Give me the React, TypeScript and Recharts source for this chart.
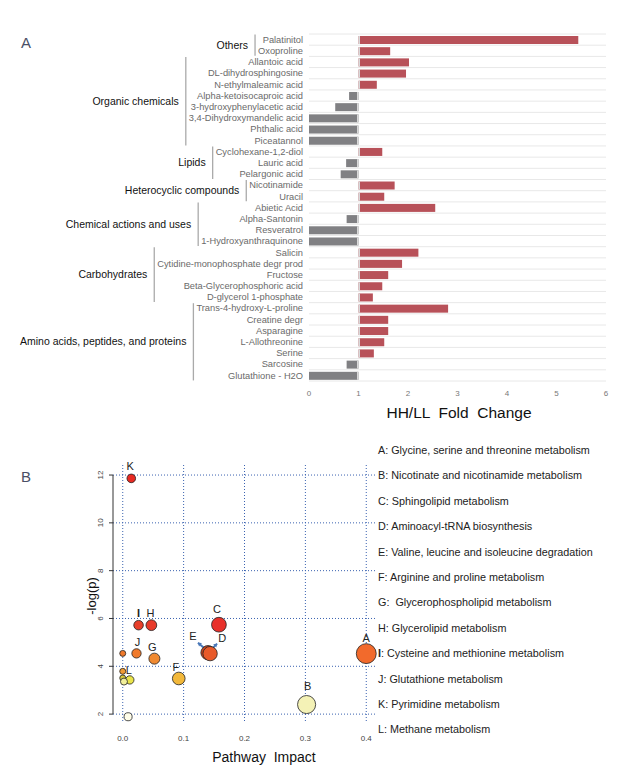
import React from 'react';
import {
  BarChart,
  Bar,
  XAxis,
  YAxis,
  CartesianGrid,
  ScatterChart,
  Scatter,
  ReferenceLine
} from 'recharts';

// ---- Panel A data ----
const metabolites = [
  'Palatinitol', 'Oxoproline',
  'Allantoic acid', 'DL-dihydrosphingosine', 'N-ethylmaleamic acid', 'Alpha-ketoisocaproic acid',
  '3-hydroxyphenylacetic acid', '3,4-Dihydroxymandelic acid', 'Phthalic acid', 'Piceatannol',
  'Cyclohexane-1,2-diol', 'Lauric acid', 'Pelargonic acid',
  'Nicotinamide', 'Uracil',
  'Abietic Acid', 'Alpha-Santonin', 'Resveratrol', '1-Hydroxyanthraquinone',
  'Salicin', 'Cytidine-monophosphate degr prod', 'Fructose', 'Beta-Glycerophosphoric acid', 'D-glycerol 1-phosphate',
  'Trans-4-hydroxy-L-proline', 'Creatine degr', 'Asparagine', 'L-Allothreonine', 'Serine', 'Sarcosine', 'Glutathione - H2O'
];
const foldChange = [
  5.44, 1.64,
  2.02, 1.96, 1.37, 0.81, 0.53, 0, 0, 0,
  1.48, 0.75, 0.64,
  1.73, 1.52,
  2.55, 0.76, 0, 0,
  2.21, 1.88, 1.6, 1.48, 1.29,
  2.81, 1.6, 1.6, 1.52, 1.31, 0.76, 0
];
const groupNames = [
  'Others', 'Organic chemicals', 'Lipids', 'Heterocyclic compounds',
  'Chemical actions and uses', 'Carbohydrates', 'Amino acids, peptides, and proteins'
];
const groupSizes = [2, 8, 3, 2, 4, 5, 7];
const foldTicks = [0, 1, 2, 3, 4, 5, 6];

// ---- Panel B data ----
const pointLabels = ['A', 'B', 'C', 'E', 'D', 'F', 'G', 'H', 'I', 'J', 'K', '', '', '', 'L', '', ''];
const pathwayImpact = [0.4, 0.302, 0.158, 0.14, 0.1435, 0.092, 0.052, 0.047, 0.026, 0.0226, 0.014, 0, 0, 0, 0.0116, 0.002, 0.0088];
const negLogP = [4.53, 2.4, 5.74, 4.57, 4.53, 3.49, 4.32, 5.72, 5.72, 4.54, 11.86, 4.54, 3.79, 3.51, 3.43, 3.36, 1.89];
const impactTicks = [0, 0.1, 0.2, 0.3, 0.4];
const logPTicks = [2, 4, 6, 8, 10, 12];
const pathwayNames = [
  'A: Glycine, serine and threonine metabolism',
  'B: Nicotinate and nicotinamide metabolism',
  'C: Sphingolipid metabolism',
  'D: Aminoacyl-tRNA biosynthesis',
  'E: Valine, leucine and isoleucine degradation',
  'F: Arginine and proline metabolism',
  'G:  Glycerophospholipid metabolism',
  'H: Glycerolipid metabolism',
  'I: Cysteine and methionine metabolism',
  'J: Glutathione metabolism',
  'K: Pyrimidine metabolism',
  'L: Methane metabolism'
];

// styles
const pointColors = [
  '#f26a2c', '#f4f2b6', '#e8302a', '#c8441f', '#e85a2a', '#f2b83a', '#f08a32', '#e83a2a', '#e8402a',
  '#f07a2c', '#e82a22', '#f07a2c', '#f09a34', '#d8c83c', '#eae44a', '#f0ee9a', '#fffde8'
];
const labelOffsets: Record<string, [number, number]> = {
  K: [-1, -12], I: [0, -12], H: [-1, -12], C: [-2, -16], E: [-15, -17], D: [12, -15],
  A: [0, -15], J: [1, -11], G: [-2, -11], F: [-3, -11], L: [-1, -10], B: [1, -18]
};

const FONT = "'Liberation Sans', Arial, sans-serif";
const A_TOP = 34;
const A_BOTTOM = 381;
const A_LEFT = 309;
const band = (A_BOTTOM - A_TOP) / metabolites.length;

// panel B plot box (chart-local)
const B_LEFT = 113;
const B_RIGHT = 376;
const B_TOP = 45;
const B_BOTTOM = 302;
const X_DOMAIN = [-0.016, 0.416];
const Y_DOMAIN = [1.67, 12.42];
const gridX = (v: number) => B_LEFT + ((v - X_DOMAIN[0]) / (X_DOMAIN[1] - X_DOMAIN[0])) * (B_RIGHT - B_LEFT);
const gridY = (v: number) => B_TOP + ((Y_DOMAIN[1] - v) / (Y_DOMAIN[1] - Y_DOMAIN[0])) * (B_BOTTOM - B_TOP);

const barRows = metabolites.map((name, i) => ({
  name,
  fc: foldChange[i],
  range: [Math.min(foldChange[i], 1), Math.max(foldChange[i], 1)]
}));

const groupStarts: number[] = [];
groupSizes.reduce((acc, n) => {
  groupStarts.push(acc);
  return acc + n;
}, 0);

let measureCtx: CanvasRenderingContext2D | null = null;
const textWidth = (s: string, font: string) => {
  if (!measureCtx) measureCtx = document.createElement('canvas').getContext('2d');
  if (!measureCtx) return s.length * 5;
  measureCtx.font = font;
  return measureCtx.measureText(s).width;
};

const MetaboliteTick = (props: any) => {
  const { x, y, payload, index } = props;
  const g = groupStarts.indexOf(index);
  let bracket = null;
  if (g >= 0) {
    const names = metabolites.slice(groupStarts[g], groupStarts[g] + groupSizes[g]);
    const maxW = Math.max(...names.map((n) => textWidth(n, `9.3px ${FONT}`)));
    const lx = x - maxW - 3;
    const y0 = y - band * 0.45;
    const y1 = y + (groupSizes[g] - 1) * band + band * 0.45;
    bracket = (
      <g>
        <line x1={lx} x2={lx} y1={y0} y2={y1} stroke="#aaa" strokeWidth={1.3} />
        <text x={lx - 7} y={(y0 + y1) / 2} dy="0.35em" textAnchor="end" fontSize={10.5} fill="#111" fontFamily={FONT}>
          {groupNames[g]}
        </text>
      </g>
    );
  }
  return (
    <g>
      <text x={x} y={y} dy="0.35em" textAnchor="end" fontSize={9.3} fill="#6a6a6a" fontFamily={FONT}>
        {payload.value}
      </text>
      {bracket}
    </g>
  );
};

const FoldBar = (props: any) => {
  const { x, y, width, height, payload } = props;
  const up = payload.fc > 1;
  return (
    <g>
      <rect x={x} y={y} width={width} height={height} fill={up ? '#b85159' : '#808083'} />
      <rect x={up ? x : x + width - 1.5} y={y} width={1.5} height={height} fill="#d9d9d9" />
    </g>
  );
};

const scatterRows = pointLabels.map((label, i) => ({
  label,
  impact: pathwayImpact[i],
  logp: negLogP[i],
  color: pointColors[i]
}));

const Arrow = ({ x1, y1, x2, y2 }: { x1: number; y1: number; x2: number; y2: number }) => {
  const a = Math.atan2(y2 - y1, x2 - x1);
  const h = 4;
  const p1 = [x2 - h * Math.cos(a - 0.6), y2 - h * Math.sin(a - 0.6)];
  const p2 = [x2 - h * Math.cos(a + 0.6), y2 - h * Math.sin(a + 0.6)];
  return (
    <g>
      <line x1={x1} y1={y1} x2={x2} y2={y2} stroke="#4a78b8" strokeWidth={2} />
      <polygon points={`${x2},${y2} ${p1[0]},${p1[1]} ${p2[0]},${p2[1]}`} fill="#4a78b8" />
    </g>
  );
};

const PathwayPoint = (props: any) => {
  const { cx, cy, payload } = props;
  const r = 3 + 11 * Math.sqrt(payload.impact);
  const off = labelOffsets[payload.label];
  return (
    <g>
      {payload.label === 'E' && <Arrow x1={cx - 3} y1={cy - 4} x2={cx - 10} y2={cy - 10} />}
      {payload.label === 'D' && <Arrow x1={cx + 2} y1={cy - 5} x2={cx + 7} y2={cy - 10} />}
      <circle cx={cx} cy={cy} r={r} fill={payload.color} stroke="#222" strokeWidth={0.8} />
      {off && (
        <text
          x={cx + off[0]}
          y={cy + off[1]}
          dy="0.35em"
          textAnchor="middle"
          fontSize={11}
          fontWeight={payload.label === 'I' ? 700 : 400}
          fill="#222"
          fontFamily={FONT}
        >
          {payload.label}
        </text>
      )}
    </g>
  );
};

const LogPTick = (props: any) => {
  const { y, payload } = props;
  return (
    <text x={103} y={y} transform={`rotate(-90 103 ${y})`} textAnchor="middle" fontSize={8} fill="#444" fontFamily={FONT}>
      {payload.value}
    </text>
  );
};

const App: React.FC = () => {
  return (
    <div style={{ position: 'absolute', left: 0, top: 0, width: 620, height: 778, background: '#fff', fontFamily: FONT }}>
      <div style={{ position: 'absolute', left: 21, top: 34, fontSize: 15, color: '#4a4f66' }}>A</div>
      <div style={{ position: 'absolute', left: 0, top: 0 }}>
        <BarChart width={620} height={420} data={barRows} layout="vertical" margin={{ top: A_TOP, right: 14, bottom: 9, left: 0 }}>
          <CartesianGrid
            vertical={false}
            horizontalPoints={Array.from({ length: metabolites.length + 1 }, (_, i) => A_TOP + i * band)}
            stroke="#e8e8e8"
          />
          <XAxis
            type="number"
            domain={[0, 6]}
            ticks={foldTicks}
            axisLine={false}
            tickLine={false}
            tickSize={0}
            tickMargin={9}
            height={30}
            tick={{ fontSize: 8, fill: '#777', fontFamily: FONT }}
          />
          <YAxis
            type="category"
            dataKey="name"
            width={A_LEFT}
            axisLine={false}
            tickLine={false}
            tickSize={0}
            tickMargin={6}
            interval={0}
            tick={<MetaboliteTick />}
          />
          <Bar dataKey="range" barSize={8} shape={<FoldBar />} isAnimationActive={false} />
        </BarChart>
      </div>
      <div style={{ position: 'absolute', left: 0, width: 918, top: 404, textAlign: 'center', fontSize: 15.5, color: '#111', whiteSpace: 'pre' }}>
        {'HH/LL  Fold  Change'}
      </div>

      <div style={{ position: 'absolute', left: 21, top: 468, fontSize: 15, color: '#4a4f66' }}>B</div>
      <div style={{ position: 'absolute', left: 0, top: 420 }}>
        <ScatterChart width={620} height={358} margin={{ top: B_TOP, right: 620 - B_RIGHT, bottom: 26, left: 0 }}>
          <CartesianGrid
            stroke="#3a62b0"
            strokeDasharray="1 2"
            strokeWidth={1}
            horizontalPoints={logPTicks.map(gridY)}
            verticalPoints={impactTicks.map(gridX)}
          />
          <XAxis
            type="number"
            dataKey="impact"
            domain={X_DOMAIN}
            ticks={impactTicks}
            axisLine={false}
            tickLine={false}
            tickSize={0}
            tickMargin={13}
            height={30}
            tickFormatter={(v: number) => v.toFixed(1)}
            tick={{ fontSize: 8, fill: '#444', fontFamily: FONT }}
          />
          <YAxis
            type="number"
            dataKey="logp"
            domain={Y_DOMAIN}
            ticks={logPTicks}
            width={B_LEFT}
            axisLine={false}
            tickLine={{ stroke: '#333' }}
            tickSize={4}
            tick={<LogPTick />}
          />
          <ReferenceLine
            segment={[{ x: X_DOMAIN[0], y: 2 }, { x: X_DOMAIN[0], y: 12 }]}
            stroke="#333"
            strokeWidth={1}
            ifOverflow="visible"
          />
          <Scatter data={scatterRows} shape={<PathwayPoint />} isAnimationActive={false} />
        </ScatterChart>
      </div>
      <div
        style={{
          position: 'absolute',
          left: 91,
          top: 596,
          transform: 'translate(-50%, -50%) rotate(-90deg)',
          fontSize: 13,
          color: '#111',
          whiteSpace: 'nowrap'
        }}
      >
        -log(p)
      </div>
      <div style={{ position: 'absolute', left: 0, width: 528, top: 749, textAlign: 'center', fontSize: 14, color: '#111', whiteSpace: 'pre' }}>
        {'Pathway  Impact'}
      </div>
      {pathwayNames.map((n, i) => (
        <div
          key={n}
          style={{
            position: 'absolute',
            left: 378,
            top: 444 + i * 25.4,
            fontSize: 10.8,
            color: '#222',
            whiteSpace: 'pre'
          }}
        >
          {n.startsWith('I:') ? (
            <>
              <b>I</b>
              {n.slice(1)}
            </>
          ) : (
            n
          )}
        </div>
      ))}
    </div>
  );
};

export default App;
